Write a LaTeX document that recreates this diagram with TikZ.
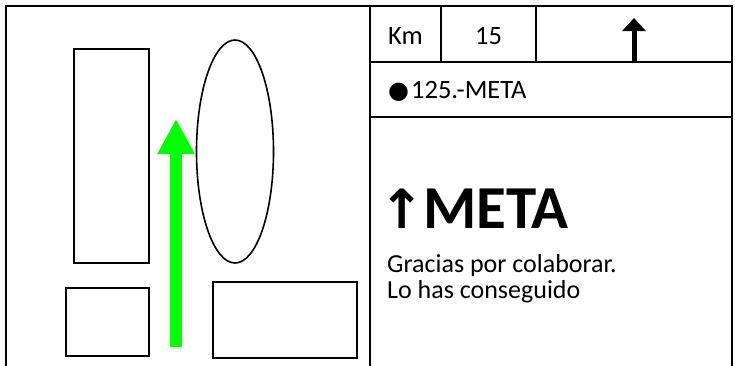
\documentclass[tikz,border=0pt]{standalone}
\usepackage{fontspec}
\setmainfont{Carlito}
\newfontfamily\symfont{DejaVu Sans}
\usetikzlibrary{arrows.meta, positioning, shapes.geometric}
\definecolor{signgreen}{RGB}{0,255,0}

\begin{document}
\begin{tikzpicture}[
  x=1pt, y=-1pt,
  frame/.style={draw, line width=2pt},
  blockbox/.style={draw, line width=1.6pt, inner sep=0pt},
  celltext/.style={anchor=base, inner sep=0pt, font=\fontsize{26.5}{31}\selectfont},
  bodytext/.style={anchor=base west, inner sep=0pt, font=\fontsize{26}{31}\selectfont}
]
  \useasboundingbox (0,0) rectangle (735,365);

  % left panel: plan view
  \draw[frame] (6,366) -- (6,6) -- (370,6) -- (370,366);
  \node[blockbox, minimum width=75pt, minimum height=214pt] (tall)  at (111.5,156) {};
  \node[blockbox, ellipse, minimum width=77pt, minimum height=223pt] (oval) at (235,151.5) {};
  \node[blockbox, minimum width=83pt, minimum height=68pt]  (small) at (107.5,322) {};
  \node[blockbox, minimum width=144pt, minimum height=76pt] (wide)  at (285,320) {};
  \coordinate (gobase) at (176,347);
  \coordinate (gotip)  at (176,119);
  \draw[signgreen, line width=12pt, -{Triangle[width=35pt, length=35pt]}] (gobase) -- (gotip);

  % right panel: sign
  \draw[frame] (370,366) -- (370,6) -- (732,6) -- (732,366);
  \draw[frame] (370,62) -- (732,62);
  \draw[frame] (370,117) -- (732,117);
  \draw[frame] (441,6) -- (441,62);
  \draw[frame] (536,6) -- (536,62);
  \node[celltext] (km)    at (405.5,44) {Km};
  \node[celltext] (kmval) at (488.5,44) {15};
  \coordinate (upbase) at (634,62);
  \coordinate (uptip)  at (634,18);
  \draw[line width=5pt, -{Triangle[width=23pt, length=13pt]}] (upbase) -- (uptip);
  \node[celltext, anchor=base west] (stop) at (388,98)
    {{\symfont\fontsize{24}{28}\selectfont ●}\hspace{2pt}125.-META};
  \node[anchor=base west, inner sep=0pt, font=\fontsize{61}{66}\selectfont\bfseries] (goal) at (379,228)
    {{\symfont\fontsize{54}{58}\selectfont\bfseries ↑}\hspace{-1pt}META};
  \node[bodytext] (thanks) at (387,272) {Gracias por colaborar.};
  \node[bodytext] (done)   at (387,298) {Lo has conseguido};
\end{tikzpicture}
\end{document}
